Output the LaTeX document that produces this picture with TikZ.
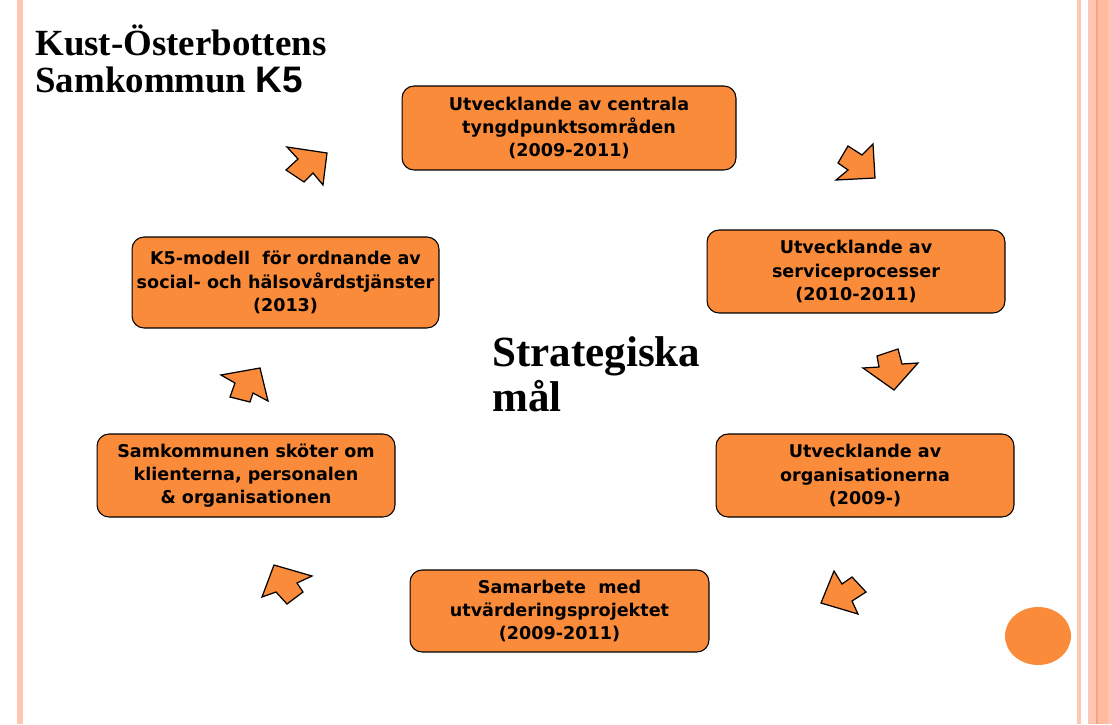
\documentclass[tikz,border=0pt]{standalone}
\usepackage{fontspec}
\setmainfont{Liberation Serif}
\newfontfamily\boxfont{DejaVu Sans}
\newfontfamily\arialfont{Liberation Sans}
\definecolor{boxorange}{HTML}{FA8B3B}
\definecolor{stripe}{HTML}{FFC7B3}
\definecolor{stripedark}{HTML}{FDBBA2}
\definecolor{stripeline}{HTML}{F9A27E}
\tikzset{
  goalbox/.style={draw=black, line width=0.6pt, fill=boxorange,
    rounded corners=0.24cm, align=center, inner sep=0pt,
    font=\boxfont\bfseries\fontsize{10}{13.3}\selectfont},
  blockarrow/.style={draw=black, line width=0.7pt, fill=boxorange, line join=miter}
}

\begin{document}
\begin{tikzpicture}[x=0.02cm,y=-0.02cm]
\useasboundingbox (0,0) rectangle (1112,724);
% side stripes
\fill[stripe] (17,0) rectangle (23,724);
\fill[stripe] (1077,0) rectangle (1081,724);
\fill[stripe] (1088,0) rectangle (1112,724);
\fill[stripedark] (1097,0) rectangle (1108,724);
\draw[stripeline,line width=0.6pt] (1097,0) -- (1097,724);
% title
\node[anchor=north west, align=left, inner sep=0pt,
  font=\bfseries\fontsize{21}{21.5}\selectfont] (title) at (35,24)
  {Kust-Österbottens\\Samkommun {\arialfont K5}};
% centre text
\node[anchor=north west, align=left, inner sep=0pt,
  font=\bfseries\fontsize{24.5}{25.5}\selectfont] (strategi) at (492,336)
  {Strategiska\\mål};
% goals
\node[goalbox, minimum width=6.68cm, minimum height=1.68cm] (utvtyngd) at (569,128)
  {Utvecklande av centrala\\tyngdpunktsområden\\(2009-2011)};
\node[goalbox, minimum width=5.96cm, minimum height=1.66cm] (utvservice) at (856,271.5)
  {Utvecklande av\\serviceprocesser\\(2010-2011)};
\node[goalbox, minimum width=5.96cm, minimum height=1.66cm] (utvorg) at (865,475.5)
  {Utvecklande av\\organisationerna\\(2009-)};
\node[goalbox, minimum width=5.98cm, minimum height=1.64cm] (samarbete) at (559.5,611)
  {Samarbete\ \ med\\utvärderingsprojektet\\(2009-2011)};
\node[goalbox, minimum width=5.96cm, minimum height=1.66cm] (skoter) at (246,475.5)
  {Samkommunen sköter om\\klienterna, personalen\\\& organisationen};
\node[goalbox, minimum width=6.14cm, minimum height=1.82cm] (modell) at (285.5,282.5)
  {K5-modell\ \ för ordnande av\\social- och hälsovårdstjänster\\(2013)};
% block arrows between the goals
\draw[blockarrow] (875,178) -- (873,144) -- (862,155) -- (848,146) -- (838,163) -- (848,170) -- (836,180) -- cycle;
\draw[blockarrow] (894,390) -- (863,368) -- (879,367) -- (877,356) -- (898,349) -- (902,364) -- (918,363) -- cycle;
\draw[blockarrow] (821,603) -- (834,571) -- (842,584) -- (852,577) -- (866,592) -- (852,601) -- (858,614) -- cycle;
\draw[blockarrow] (274,565) -- (312,576) -- (297,583) -- (303,592) -- (287,604) -- (276,592) -- (262,597) -- cycle;
\draw[blockarrow] (260,368) -- (221,375) -- (235,383) -- (230,397) -- (250,402) -- (253,393) -- (268,401) -- cycle;
\draw[blockarrow] (327,153) -- (287,147) -- (298,159) -- (286,170) -- (304,182) -- (313,173) -- (323,185) -- cycle;
% dot
\fill[boxorange] (1038,636) ellipse [x radius=0.66cm, y radius=0.58cm];
\end{tikzpicture}
\end{document}
